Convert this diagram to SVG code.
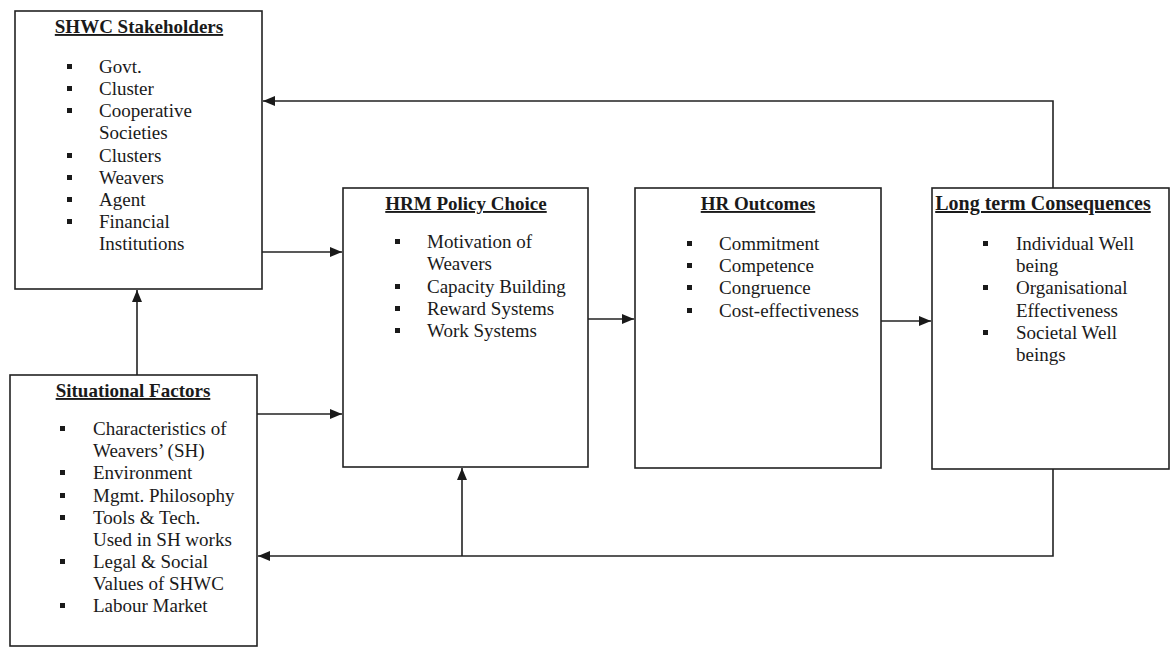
<svg xmlns="http://www.w3.org/2000/svg" width="1171" height="648" viewBox="0 0 1171 648">
<style>
.box{fill:#fff;stroke:#222;stroke-width:1.6}
.t{font-family:"Liberation Serif","Times New Roman",serif;font-size:19px;fill:#1a1a1a}
.h{font-family:"Liberation Serif","Times New Roman",serif;font-size:19px;font-weight:bold;fill:#1a1a1a;text-decoration:underline;text-anchor:middle}
.b{fill:#1a1a1a}
.c{fill:none;stroke:#222;stroke-width:1.6}
</style>
<defs>
<marker id="ah" viewBox="0 0 12 10" refX="12" refY="5" markerWidth="12" markerHeight="10" markerUnits="userSpaceOnUse" orient="auto">
<path d="M0,0 L12,5 L0,10 z" fill="#1a1a1a"/>
</marker>
</defs>
<rect width="1171" height="648" fill="#fff"/>
<g id="connectors">
<path class="c" d="M1053,188 V101 H263" marker-end="url(#ah)"/>
<path class="c" d="M262,252 H342" marker-end="url(#ah)"/>
<path class="c" d="M257,414 H342" marker-end="url(#ah)"/>
<path class="c" d="M137,375 V290" marker-end="url(#ah)"/>
<path class="c" d="M588,319 H634" marker-end="url(#ah)"/>
<path class="c" d="M881,321 H931" marker-end="url(#ah)"/>
<path class="c" d="M1053,469 V556 H258" marker-end="url(#ah)"/>
<path class="c" d="M462,556 V468" marker-end="url(#ah)"/>
</g>
<g id="shwc">
<rect class="box" x="15" y="11" width="247" height="278"/>
<text class="h" x="139" y="33">SHWC Stakeholders</text>
<rect class="b" x="67" y="64" width="5" height="5"/><text class="t" x="99" y="73">Govt.</text>
<rect class="b" x="67" y="86" width="5" height="5"/><text class="t" x="99" y="95">Cluster</text>
<rect class="b" x="67" y="108" width="5" height="5"/><text class="t" x="99" y="117">Cooperative</text>
<text class="t" x="99" y="139">Societies</text>
<rect class="b" x="67" y="153" width="5" height="5"/><text class="t" x="99" y="162">Clusters</text>
<rect class="b" x="67" y="175" width="5" height="5"/><text class="t" x="99" y="184">Weavers</text>
<rect class="b" x="67" y="197" width="5" height="5"/><text class="t" x="99" y="206">Agent</text>
<rect class="b" x="67" y="219" width="5" height="5"/><text class="t" x="99" y="228">Financial</text>
<text class="t" x="99" y="250">Institutions</text>
</g>
<g id="situational">
<rect class="box" x="10" y="375" width="247" height="271"/>
<text class="h" x="133" y="397">Situational Factors</text>
<rect class="b" x="60" y="426" width="5" height="5"/><text class="t" x="93" y="435">Characteristics of</text>
<text class="t" x="93" y="457">Weavers’ (SH)</text>
<rect class="b" x="60" y="470" width="5" height="5"/><text class="t" x="93" y="479">Environment</text>
<rect class="b" x="60" y="493" width="5" height="5"/><text class="t" x="93" y="502">Mgmt. Philosophy</text>
<rect class="b" x="60" y="515" width="5" height="5"/><text class="t" x="93" y="524">Tools &amp; Tech.</text>
<text class="t" x="93" y="546">Used in SH works</text>
<rect class="b" x="60" y="559" width="5" height="5"/><text class="t" x="93" y="568">Legal &amp; Social</text>
<text class="t" x="93" y="590">Values of SHWC</text>
<rect class="b" x="60" y="603" width="5" height="5"/><text class="t" x="93" y="612">Labour Market</text>
</g>
<g id="hrm">
<rect class="box" x="343" y="188" width="245" height="279"/>
<text class="h" x="466" y="210">HRM Policy Choice</text>
<rect class="b" x="395" y="239" width="5" height="5"/><text class="t" x="427" y="248">Motivation of</text>
<text class="t" x="427" y="270">Weavers</text>
<rect class="b" x="395" y="284" width="5" height="5"/><text class="t" x="427" y="293">Capacity Building</text>
<rect class="b" x="395" y="306" width="5" height="5"/><text class="t" x="427" y="315">Reward Systems</text>
<rect class="b" x="395" y="328" width="5" height="5"/><text class="t" x="427" y="337">Work Systems</text>
</g>
<g id="hroutcomes">
<rect class="box" x="635" y="188" width="246" height="280"/>
<text class="h" x="758" y="210">HR Outcomes</text>
<rect class="b" x="687" y="241" width="5" height="5"/><text class="t" x="719" y="250">Commitment</text>
<rect class="b" x="687" y="263" width="5" height="5"/><text class="t" x="719" y="272">Competence</text>
<rect class="b" x="687" y="285" width="5" height="5"/><text class="t" x="719" y="294">Congruence</text>
<rect class="b" x="687" y="308" width="5" height="5"/><text class="t" x="719" y="317">Cost-effectiveness</text>
</g>
<g id="longterm">
<rect class="box" x="932" y="188" width="237" height="281"/>
<text class="h" x="1043" y="210" style="font-size:20px">Long term Consequences</text>
<rect class="b" x="983" y="241" width="5" height="5"/><text class="t" x="1016" y="250">Individual Well</text>
<text class="t" x="1016" y="272">being</text>
<rect class="b" x="983" y="285" width="5" height="5"/><text class="t" x="1016" y="294">Organisational</text>
<text class="t" x="1016" y="317">Effectiveness</text>
<rect class="b" x="983" y="330" width="5" height="5"/><text class="t" x="1016" y="339">Societal Well</text>
<text class="t" x="1016" y="361">beings</text>
</g>
</svg>
